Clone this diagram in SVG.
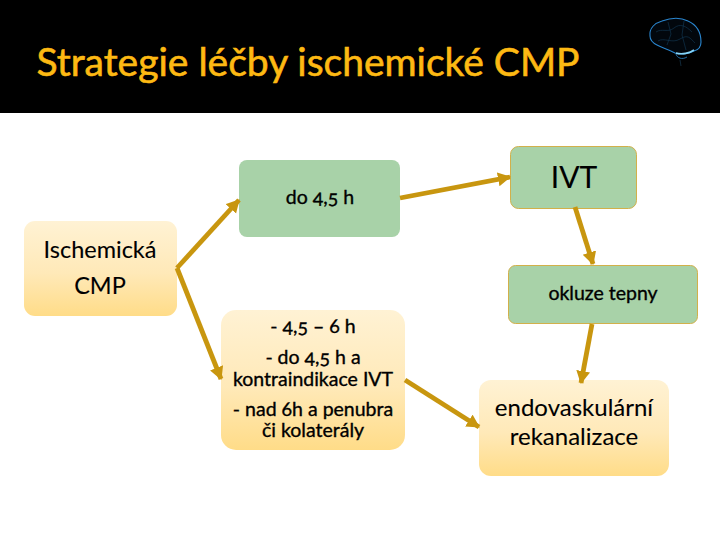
<svg xmlns="http://www.w3.org/2000/svg" width="720" height="540" viewBox="0 0 720 540">
<defs>
<linearGradient id="cream" x1="0" y1="0" x2="0" y2="1"><stop offset="0" stop-color="#fff2d4"/><stop offset="0.55" stop-color="#ffe9b8"/><stop offset="1" stop-color="#ffdc88"/></linearGradient>
<marker id="arrow" markerUnits="userSpaceOnUse" markerWidth="15" markerHeight="15" refX="12" refY="7" orient="auto"><path d="M0 0L13 7L0 14Z" fill="#c8960f"/></marker>
</defs>
<style>
text{font-family:"Lato","Noto Sans","Liberation Sans",sans-serif;fill:#000;text-anchor:middle;font-feature-settings:"onum";stroke:#000;stroke-width:.35}
text.big{stroke-width:.1}
.conn{fill:none;stroke:#c8960f;stroke-width:4.8;marker-end:url(#arrow)}
.green{fill:#a8d2a8}
.edge{stroke:#d2b04a;stroke-width:1}
.cream{fill:url(#cream)}
</style>
<rect width="720" height="113" fill="#000"/>
<text id="title" x="308" y="76" style="fill:#fdb913;stroke:#fdb913;stroke-width:.6;font-size:39px">Strategie léčby ischemické CMP</text>
<g id="brain" fill="none">
<path d="M650 36C649 28 655 23 662 21C670 18 680 17 688 21C697 25 701 33 701 42C701 47 698 50 694 51C688 54 680 55 675 53C668 49 662 48 657 45C653 43 650 40 650 36Z" fill="#02070d" stroke="#2a86cf" stroke-width="1.1"/>
<path d="M676 53C682 55 690 53 694 50" stroke="#86d4f6" stroke-width="1.6"/>
<path d="M676 54C677 58 682 60 687 57" stroke="#2a86cf" stroke-width=".8"/>
<path d="M680 60L681 66" stroke="#173a52" stroke-width=".7"/>
<path d="M656 32C662 28 668 33 674 28S686 26 692 32M658 41C664 37 672 44 680 39S690 38 695 43M668 22L671 34L667 45M684 21L682 35L686 50" stroke="#123a58" stroke-width=".6"/>
</g>
<g id="n-do45"><rect class="green" x="239" y="160" width="161" height="77" rx="8"/><text x="320" y="204" font-size="19.500">do 4,5 h</text></g>
<g id="n-ivt"><rect class="green edge" x="510.500" y="146.500" width="126" height="62" rx="8"/><text class="big" x="574" y="188" font-size="30">IVT</text></g>
<g id="n-cmp"><rect class="cream" x="24" y="221" width="153" height="95" rx="11"/><text class="big" x="100" y="258" font-size="23.500">Ischemická</text><text class="big" x="100" y="294" font-size="23.500">CMP</text></g>
<g id="n-okluze"><rect class="green edge" x="508.500" y="265.500" width="189" height="58" rx="7"/><text x="603" y="300" font-size="19.500">okluze tepny</text></g>
<g id="n-mid"><rect class="cream" x="221" y="310" width="184" height="140" rx="15"/><text x="313" y="333" font-size="19.500">- 4,5 – 6 h</text><text x="313" y="364" font-size="19.500">- do 4,5 h a</text><text x="313" y="386" font-size="19.500">kontraindikace IVT</text><text x="313" y="416" font-size="19.500">- nad 6h a penubra</text><text x="313" y="437" font-size="19.500">či kolaterály</text></g>
<g id="n-endo"><rect class="cream" x="479" y="380" width="190" height="96" rx="12"/><text class="big" x="574" y="416" font-size="24">endovaskulární</text><text class="big" x="574" y="445" font-size="24">rekanalizace</text></g>
<g id="connectors">
<path class="conn" d="M177 268L239 200"/>
<path class="conn" d="M177 268L221 379"/>
<path class="conn" d="M400 198L510 177"/>
<path class="conn" d="M405 380L479 427"/>
<path class="conn" d="M575 207L593 264"/>
<path class="conn" d="M592 324L581 383"/>
</g>
</svg>
